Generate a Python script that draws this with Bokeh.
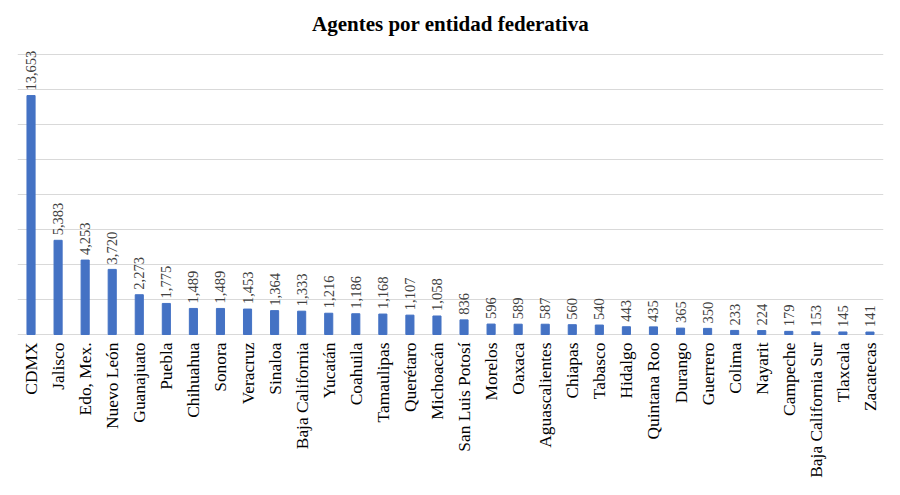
import math
from bokeh.plotting import figure
from bokeh.models import ColumnDataSource, FixedTicker
from bokeh.core.properties import value
from bokeh.embed import file_html
from bokeh.resources import INLINE

estados = ["CDMX", "Jalisco", "Edo, Mex.", "Nuevo León", "Guanajuato", "Puebla",
           "Chihuahua", "Sonora", "Veracruz", "Sinaloa", "Baja California", "Yucatán",
           "Coahuila", "Tamaulipas", "Querétaro", "Michoacán", "San Luis Potosí",
           "Morelos", "Oaxaca", "Aguascalientes", "Chiapas", "Tabasco", "Hidalgo",
           "Quintana Roo", "Durango", "Guerrero", "Colima", "Nayarit", "Campeche",
           "Baja California Sur", "Tlaxcala", "Zacatecas"]
agentes = [13653, 5383, 4253, 3720, 2273, 1775, 1489, 1489, 1453, 1364, 1333, 1216,
           1186, 1168, 1107, 1058, 836, 596, 589, 587, 560, 540, 443, 435, 365, 350,
           233, 224, 179, 153, 145, 141]
grid_ticks = [0, 2000, 4000, 6000, 8000, 10000, 12000, 14000, 16000]

src = ColumnDataSource(dict(cat=estados, val=agentes, base=[0] * len(estados),
                            lbl=[f"{v:,}" for v in agentes]))

# frame spans from the chart top down to the figure bottom so that the
# rotated category labels (drawn below the zero line) are not clipped
Y_TOP = 16800
Y_BOTTOM = -Y_TOP * 145 / 294

p = figure(x_range=estados, y_range=(Y_BOTTOM, Y_TOP), width=884, height=479,
           output_backend="svg", toolbar_location=None,
           min_border_left=17, min_border_right=1, min_border_top=40,
           min_border_bottom=0)

p.title.text = "Agentes por entidad federativa"
p.title.align = "center"
p.title.text_font = "Liberation Serif"
p.title.text_font_style = "bold"
p.title.text_font_size = "21px"
p.title.text_color = "#000000"
p.title.standoff = 9

p.vbar(x="cat", top="val", width=0.3, source=src, color="#4472C4")
p.text(x="cat", y="val", text="lbl", source=src, angle=math.pi / 2,
       text_align="left", text_baseline="middle", y_offset=-5,
       text_font=value("Liberation Serif"), text_font_size="14.5px",
       text_color="#404040")
p.text(x="cat", y="base", text="cat", source=src, angle=math.pi / 2,
       text_align="right", text_baseline="middle", y_offset=8,
       text_font=value("Liberation Serif"), text_font_size="17.4px",
       text_color="#000000")

p.yaxis.visible = False
p.xaxis.visible = False
p.xgrid.grid_line_color = None
p.ygrid.ticker = FixedTicker(ticks=grid_ticks)
p.ygrid.grid_line_color = "#d9d9d9"
p.ygrid.grid_line_width = 1
p.outline_line_color = None
p.x_range.range_padding = 0

open("out.html", "w").write(file_html(p, INLINE))
